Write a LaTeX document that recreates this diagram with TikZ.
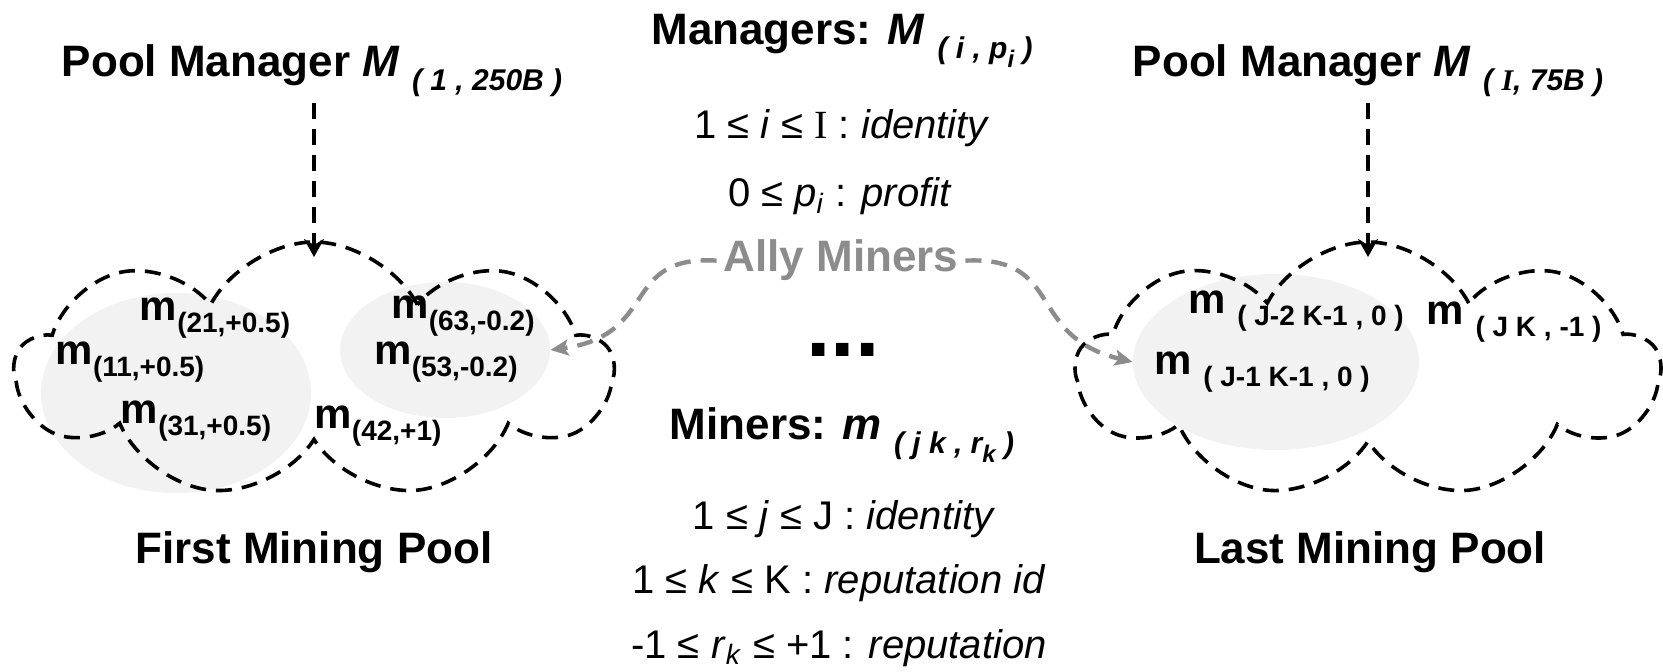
\documentclass[tikz,border=0pt]{standalone}
\usepackage{fontspec}
\setmainfont{Liberation Sans}
\newfontfamily\serifI{Liberation Serif}
\usetikzlibrary{shapes.symbols,shapes.geometric,arrows.meta}

\definecolor{allygray}{RGB}{140,140,140}
\definecolor{groupfill}{RGB}{242,242,242}

\newcommand{\lowtext}[2][15]{\raisebox{-0.3em}{\fontsize{#1}{#1}\selectfont #2}}
\newcommand{\miner}[1]{{\fontsize{21}{21}\selectfont\bfseries m\lowtext[14]{(#1)}}}
\newcommand{\minerwide}[1]{{\fontsize{21}{21}\selectfont\bfseries m \lowtext[14]{( #1 )}}}

\tikzset{
  pool/.style={cloud, cloud puffs=9, cloud puff arc=125, draw, line width=1.8pt,
    dash pattern=on 8pt off 5pt, inner sep=0pt},
  group/.style={ellipse, fill=groupfill, inner sep=0pt},
  title/.style={font=\fontsize{22}{26}\selectfont\bfseries},
  rule/.style={font=\fontsize{20}{24}\selectfont},
  mgrarrow/.style={line width=1.8pt, dash pattern=on 8pt off 5pt,
    -{Stealth[length=9pt,width=10pt,inset=3pt]}},
  allyarrow/.style={draw=allygray, line width=2.2pt, dash pattern=on 8pt off 5pt,
    -{Stealth[length=9pt,width=8pt,inset=2pt,fill=allygray]}}
}

\begin{document}
\begin{tikzpicture}[x=0.5pt, y=-0.5pt]
  \useasboundingbox (0,0) rectangle (1663,672);

  % groups of miners
  \node[group, minimum width=135pt, minimum height=100pt] (grpA) at (176,393) {};
  \node[group, minimum width=105pt, minimum height=68pt] (grpB) at (445,350) {};
  \node[group, minimum width=143pt, minimum height=88pt] (grpC) at (1276,362) {};

  % the two pools
  \node[pool, minimum width=298.5pt, minimum height=128pt] (pool1) at (314,370) {};
  \node[pool, minimum width=291.5pt, minimum height=128pt] (poolI) at (1368,370) {};

  % managers
  \node[title, anchor=base] (mgr1) at (312,77) {Pool Manager \textit{M} \lowtext{\textit{( 1 , 250B )}}};
  \node[title, anchor=base] (mgrI) at (1368,77) {Pool Manager \textit{M} \lowtext{\textit{( {\serifI I}, 75B )}}};
  \coordinate (top1) at (314,257);
  \coordinate (topI) at (1368,257);
  \draw[mgrarrow] (mgr1.south -| top1) -- (top1);
  \draw[mgrarrow] (mgrI.south -| topI) -- (topI);

  % miners of the first pool
  \node (m21) at (215,318) {\miner{21,+0.5}};
  \node (m11) at (130,362) {\miner{11,+0.5}};
  \node (m31) at (196,421) {\miner{31,+0.5}};
  \node (m42) at (378,426) {\miner{42,+1}};
  \node (m63) at (463,316) {\miner{63,-0.2}};
  \node (m53) at (446,362) {\miner{53,-0.2}};

  % miners of the last pool
  \node (mJ2) at (1296,311) {\minerwide{J-2 K-1 , 0}};
  \node (mJ1) at (1262,372) {\minerwide{J-1 K-1 , 0}};
  \node (mJK) at (1514,322) {\minerwide{J K , -1}};

  \node[title, anchor=base] (name1) at (314,564) {First Mining Pool};
  \node[title, anchor=base] (nameI) at (1370,564) {Last Mining Pool};

  % legend in the middle
  \node[title, anchor=base] (mgrs) at (842,45) {Managers: \textit{M} \lowtext{\textit{( i , p\lowtext[12]{i} )}}};
  \node[rule, anchor=base] (ruleI) at (842,139) {1 ≤ \textit{i} ≤ {\serifI I} : \textit{identity}};
  \node[rule, anchor=base] (ruleP) at (840,207) {0 ≤ \textit{p}\textsubscript{\textit{i}} : \textit{profit}};
  \node[title, text=allygray, anchor=base] (allies) at (841,272) {Ally Miners};
  \node[anchor=base, font=\fontsize{44}{44}\selectfont\bfseries] (dots) at (843,357) {...};
  \node[title, anchor=base] (miners) at (842,440) {Miners: \textit{m} \lowtext{\textit{( j k , r\lowtext[12]{k} )}}};
  \node[rule, anchor=base] (ruleJ) at (844,530) {1 ≤ \textit{j} ≤ J : \textit{identity}};
  \node[rule, anchor=base] (ruleK) at (839,594) {1 ≤ \textit{k} ≤ K : \textit{reputation id}};
  \node[rule, anchor=base] (ruleR) at (839,658) {-1 ≤ \textit{r}\textsubscript{\textit{k}} ≤ +1 : \textit{reputation}};

  % ally miners
  \draw[allyarrow] (allies.west) .. controls (620,255) and (660,335) .. (grpB.east);
  \draw[allyarrow] (allies.east) .. controls (1065,256) and (1025,336) .. (grpC.west);
\end{tikzpicture}
\end{document}
